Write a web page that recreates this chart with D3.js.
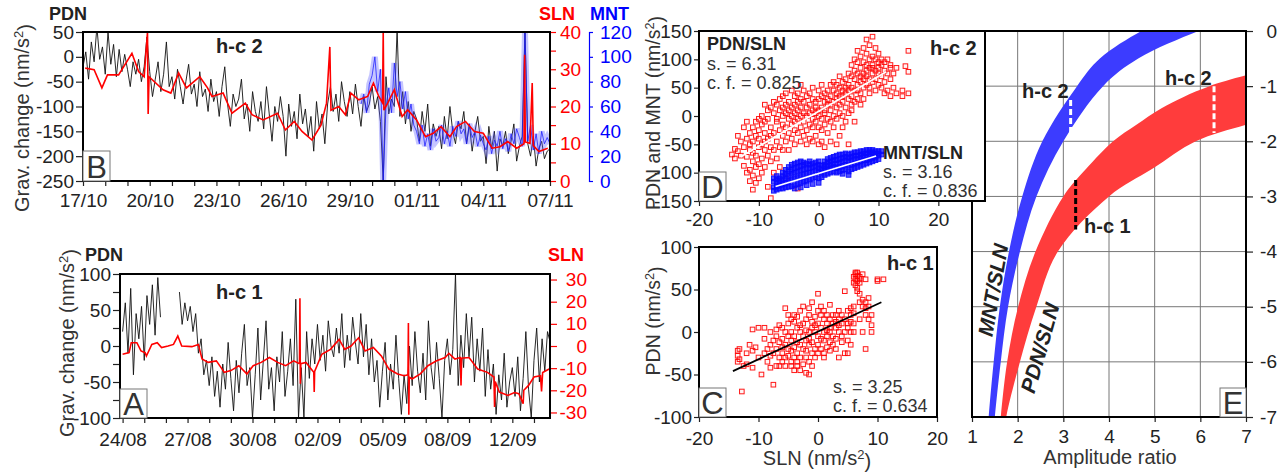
<!DOCTYPE html>
<html>
<head>
<meta charset="utf-8">
<script src="https://cdn.jsdelivr.net/npm/d3@7"></script>
<style>
  body { margin: 0; background: #fff; }
  svg { display: block; font-family: "Liberation Sans", Arial, sans-serif; }
</style>
</head>
<body>
<svg id="fig" width="1282" height="472"></svg>
<script>
// ---------------- data ----------------
// panel B (h-c 2): PDN sampled every 1/8 day from 17/10
const bStep = 0.125;
const bPdn = [
  -20, 10, -45, 30, -10, 60, -5, 20,
  -35, 50, -15, 25, -40, 15, -30, 5,
  -25, -60, -10, -35, -5, -50, -20, 40,
  -30, -80, -45, -10, -70, -35, 30, -60,
  -40, -85, -25, -60, -95, -50, -15, -75,
  -55, -100, -30, -80, -65, -110, -45, -90,
  -70, -120, -60, -20, -95, -140, -75, -100,
  -85, -45, -125, -95, -150, -70, -110, -130,
  -90, -145, -60, -115, -170, -100, -130, -80,
  -120, -200, -95, -140, -110, -165, -75, -135,
  -105, -160, -120, -190, -90, -145, -115, -175,
  -95, -60, -110, -75, -130, -50, -90, -120,
  -70, -115, -55, -100, -140, -80, -110, -95,
  -60, -105, -80, -130, -250, -40, -115, -85,
  -100, 55, -120, -70, -135, -90, -150, -110,
  -125, -170, -110, -150, -95, -180, -135, -160,
  -140, -185, -120, -165, -100, -150, -175, -130,
  -145, -110, -175, -135, -190, -150, -120, -170,
  -160, -215, -140, -185, -150, -230, -165, -180,
  -150, -195, -170, -135, -210, -180, -160, 55,
  -175, -200, -160, -220, -185, -170, -205, -190,
  -185
];
// MNT starts at day 12.5, same step
const bMntStart = 12.5;
const bMnt = [
  62, 70, 55, 78,
  85, 100, 72, 90, 0, 60, 75, 55,
  95, 68, 80, 58, 72, 50, 62, 45,
  40, 30, 45, 28, 38, 25, 42, 32,
  35, 45, 30, 40, 28, 44, 36, 48,
  38, 42, 30, 46, 35, 40, 28, 37,
  30, 25, 36, 22, 33, 28, 40, 26,
  34, 24, 38, 30, 42, 35, 28, 120,
  32, 45, 25, 38, 22, 40, 30, 35,
  30
];
// SLN (day, nm/s2)
const bSln = [[0.1,30.3],[0.5,29.9],[0.85,25],[1.1,28.5],[1.6,28.5],[2.2,34.3],[2.5,29.4],[2.75,28],[2.9,40],[2.93,18],[2.97,28],[3.6,24.5],[3.95,23.6],[4.3,29],[4.65,25],[5.25,28],[5.6,25],[5.8,22.7],[6.3,23.6],[6.7,18.2],[7.3,20.9],[7.6,17.8],[8.1,16.4],[8.75,18.2],[9.1,13.7],[9.5,16],[9.85,13.3],[10.3,11],[10.7,15],[10.95,20.9],[11.1,36],[11.15,19],[11.5,20],[11.8,17.8],[12.05,23.6],[12.4,21.8],[12.8,22.7],[13.06,26.3],[13.3,22.7],[13.47,21],[13.5,40],[13.53,19],[13.7,20.9],[14.0,24.5],[14.35,17.3],[14.6,19.1],[15.0,16.4],[15.4,11.9],[15.75,12.8],[16.1,14.6],[16.5,11.9],[16.8,14.6],[17.2,16],[17.6,13.3],[18.0,12.8],[18.4,8.8],[18.75,9.2],[19.1,10.6],[19.5,8.8],[19.83,10],[19.86,33.9],[19.89,10.5],[20.1,10.1],[20.2,26.3],[20.25,9.5],[20.5,7.9],[20.9,8.8]];
const bDateLabels = ["17/10", "20/10", "23/10", "26/10", "29/10", "01/11", "04/11", "07/11"];

// panel A (h-c 1): PDN every 1/8 day from 24/08, null = gap
const aStep = 0.125;
const aPdn = [
  20, 60, -10, 80, -40, 45, 10, 55,
  -20, 70, 30, 85, 15, 95, 40, null,
  null, null, null, null, null, 75, 30, 60,
  35, 55, 20, 45, -10, 10, -40, -20,
  -55, -15, -70, -35, -85, -25, -60, 5,
  -45, -90, -20, -65, -10, 30, -55, -30,
  -100, -40, 25, -75, -20, 35, -60, -30,
  -90, -15, -50, 20, -70, -35, 10, -55,
  65, -100, -30, -100, 20, -45, 10, -25,
  30, -20, 15, -35, 35, 0, -15, 25,
  -10, 45, -30, 15, -20, 40, 5, -25,
  45, -15, 30, -40, 10, -50, -20, -85,
  -35, 5, -75, -25, -60, 15, -45, -95,
  -40, -80, 0, -55, 20, -35, -65, -10,
  -75, 35, -30, -60, 5, -45, -100, -20,
  10, -40, -5, 100, -55, 15, -30, 45,
  -15, 40, -50, 10, -35, 25, -70, -5,
  -60, -25, -95, -40, -75, -10, -85, -50,
  -30, -70, -15, -90, -45, 20, -60, -100,
  -20, 25, -50, 10, -35, 20, 5
];
const aSln = [[0,-3.7],[0.3,-3],[0.4,1.5],[0.66,1.5],[0.85,-2.2],[1.04,-3],[1.1,-4.5],[1.35,0.7],[1.6,1.5],[1.8,-0.7],[2.1,0],[2.35,0.7],[2.55,4.5],[2.73,0],[3.2,-0.3],[3.5,0.7],[3.67,-5.9],[3.95,-7.4],[4.33,-6.7],[4.7,-11.9],[5.0,-11.1],[5.37,-8.9],[5.74,-12.6],[6.03,-8.9],[6.4,-7.4],[6.78,-5.2],[7.16,-7.4],[7.53,-8.9],[7.9,-6.7],[8.17,-8],[8.19,21.5],[8.21,-17],[8.23,-8],[8.47,-7.4],[8.83,-11.9],[8.85,-20.8],[8.87,-11.5],[9.2,-3.7],[9.6,-1.5],[10.0,3],[10.26,-1.5],[10.55,0],[10.9,3.7],[11.2,-2.2],[11.58,-0.7],[11.95,-4.5],[12.3,-10.4],[12.7,-12.6],[13.0,-13.4],[13.18,-13],[13.2,10.4],[13.22,-31],[13.24,-14],[13.37,-14.9],[13.75,-12.6],[14.1,-8.9],[14.5,-6.7],[14.9,-5.2],[15.07,-3.3],[15.35,-5.9],[15.6,-5.2],[15.63,-17.8],[15.66,-5.5],[16.0,-5.2],[16.4,-10.4],[16.85,-11.9],[17.15,-14],[17.18,-27.5],[17.21,-16],[17.4,-20.8],[17.8,-22.3],[18.1,-21],[18.3,-21.5],[18.5,-26],[18.53,-20],[18.75,-17.8],[19.0,-14],[19.3,-13.4],[19.35,-20.5],[19.4,-12],[19.7,-10.4]];
const aDateLabels = ["24/08", "27/08", "30/08", "02/09", "05/09", "08/09", "12/09"];

// panel D scatter: [SLN, [PDN values...]]
const dRed = [
  [-14.5,[-68]],[-14,[-58,-75]],[-13.5,[-35,-62]],[-13,[-70,-45]],[-12.5,[-20,-55,-88]],
  [-12,[-40,-72,-100,-10]],[-11.5,[-30,-60,-95,-115,-50]],[-11,[-20,-45,-80,-130,-105,-65]],
  [-10.5,[-10,-35,-70,-90,-118]],[-10,[-25,-55,-85,-5,-110,-40]],[-9.5,[-15,-50,-75,-100,0]],
  [-9,[-30,-60,-10,-90,20,-45]],[-8.5,[-5,-40,-70,-125,10]],[-8,[-20,-55,-145,15,-35,-80]],
  [-7.5,[5,-30,-60,-100,25]],[-7,[-10,-45,20,-75,-5]],[-6.5,[10,-25,-55,30,-90]],
  [-6,[0,-35,15,-15,35,-60]],[-5.5,[-20,20,-45,5,-110,40]],[-5,[-5,25,-30,10,-60]],
  [-4.5,[15,-15,45,-40,0]],[-4,[-25,5,35,-50,20,-10]],[-3.5,[10,-30,40,-5,25,-128]],
  [-3,[-20,15,-45,30,0,55]],[-2.5,[-10,25,-35,5,45]],[-2,[0,-25,35,15,-50]],
  [-1.5,[20,-15,40,-40,5]],[-1,[10,-20,30,-5,50,-45]],[-0.5,[25,-10,5,-35,15]],
  [0,[0,30,-20,10,-50,45]],[0.5,[15,-25,35,-5,55,-45]],[1,[5,25,-15,40,-55,10]],
  [1.5,[20,-5,45,-30,30]],[2,[10,35,-10,55,-45,20]],[2.5,[25,0,45,-20,60]],
  [3,[15,40,-5,30,-50,55]],[3.5,[35,5,50,20,-35,70]],[4,[25,45,0,60,-20,35]],
  [4.5,[40,15,65,-10,50]],[5,[30,55,5,75,45,-50]],[5.5,[50,20,70,35,90,10]],
  [6,[45,65,25,80,100,-10]],[6.5,[55,75,30,95,115,45]],[7,[60,85,40,105,20,70]],
  [7.5,[75,50,95,120,65,30]],[8,[70,90,55,110,80,135]],[8.5,[85,65,100,125,50,40]],
  [9,[90,75,140,60,105,85]],[9.5,[80,100,65,120,45]],[10,[95,75,110,55,85]],
  [10.5,[70,90,50,100]],[11,[80,60,95,40]],[11.5,[100,75,45]],[12,[90,65,85,35]],
  [12.5,[75,50]],[13,[40,85]],[14,[35,45]],[14.5,[88]],[15,[115,78,40]]
];
const dBlue = [
  [-7.5,[-126,-116,-132,-110]],[-7,[-124,-112,-130,-118,-106]],[-6.5,[-122,-110,-128,-115]],
  [-6,[-120,-106,-128,-112,-100]],[-5.5,[-118,-102,-126,-110,-95]],[-5,[-115,-98,-125,-106,-90]],
  [-4.5,[-112,-95,-124,-102,-86]],[-4,[-110,-92,-122,-100,-84,-128]],[-3.5,[-108,-90,-120,-98,-82]],
  [-3,[-106,-88,-118,-96,-80,-126]],[-2.5,[-104,-86,-116,-94,-82]],[-2,[-102,-84,-114,-92,-122]],
  [-1.5,[-100,-86,-112,-92,-80]],[-1,[-98,-84,-110,-90,-120]],[-0.5,[-96,-82,-108,-88]],
  [0,[-98,-86,-110,-92,-80,-118]],[0.5,[-100,-88,-108,-94]],[1,[-96,-86,-104,-90,-80]],
  [1.5,[-94,-82,-102,-88,-76]],[2,[-92,-80,-100,-86,-74]],[2.5,[-90,-78,-98,-84,-72]],
  [3,[-92,-78,-100,-84,-70]],[3.5,[-90,-76,-98,-82,-68]],[4,[-88,-74,-96,-80,-68,-102]],
  [4.5,[-86,-72,-94,-78,-66]],[5,[-88,-74,-98,-80,-68,-104]],[5.5,[-86,-72,-94,-78,-66]],
  [6,[-84,-70,-92,-76,-64]],[6.5,[-82,-70,-90,-76,-64]],[7,[-80,-68,-88,-74,-62]],
  [7.5,[-78,-66,-86,-72,-62]],[8,[-78,-66,-84,-72,-60]],[8.5,[-76,-64,-82,-70,-60]],
  [9,[-74,-64,-80,-68,-60]],[9.5,[-72,-62,-78,-66]],[10,[-70,-62,-76,-66]],[10.5,[-68,-62]]
];
const dFitRed = [[-13, -72], [11.3, 78]];
const dFitBlue = [[-7.2, -124.6], [9.6, -70.5]];

// panel C scatter (h-c 1)
const cRed = [
  [-13.5,[-22,-28,-35]],[-13.2,[-20,-32]],[-12.8,[-70]],[-12.5,[-40]],[-12,[-38,-25]],[-11.5,[-15]],
  [-11,[3,-42,-22]],[-10.5,[-18]],[-10,[5,-30]],[-9.5,[-50]],[-9,[5,-25,-8]],[-8.5,[-35,-20]],
  [-8,[-15,0,-42,-28]],[-7.5,[-62,-10,-25]],[-7,[-20,-5,-40,3]],[-6.5,[-30,-12,8,-40]],
  [-6,[-25,-8,-35,5,-18]],[-5.5,[28,-15,-30,0,-40]],[-5,[-20,10,-5,-28,20]],
  [-4.5,[-10,-35,15,-22,0,-40]],[-4,[-30,-5,12,-18,-45,20]],[-3.5,[-25,5,-40,-12,18,-35]],
  [-3,[-15,8,-30,-45,25,0]],[-2.5,[-20,10,-38,-5,30]],[-2,[-10,-30,15,-48,2,-22]],
  [-1.5,[-50,-15,20,-35,0,28,-8]],[-1,[-25,5,-40,12,-12,35]],[-0.5,[0,-20,18,-30,8]],
  [0,[10,-15,25,-5,45,-25]],[0.5,[5,-20,20,-8,30]],[1,[15,-10,0,-25,25,-30]],
  [1.5,[10,-5,20,-18,2]],[2,[0,15,-12,32,-22,5]],[2.5,[10,-5,20,-15]],[3,[5,20,-8,12,-20]],
  [3.5,[15,0,-30,8,25]],[4,[10,-5,20,-12]],[4.5,[0,15,48,-25]],[5,[10,-10,5,25,-25]],
  [5.5,[20,0,28,12,-15]],[6,[30,10,65,58,0,22]],[6.3,[68,62,55,70]],[6.6,[66,60,52,70,48]],
  [7,[65,62,58,35,15,45]],[7.5,[30,38,0,68]],[8,[35,20,-20,28,62]],[8.5,[40,15,30]],
  [9,[20,0,8]],[10,[60,62]],[11,[62]]
];
const cFit = [[-14.3, -46], [10.65, 35]];

// panel E bands: depth levels and amplitude-ratio bounds
const eBlueDepth = [-7.3, -7, -6, -5, -4, -3, -2, -1, -0.5, 0, 0.3];
const eBlueLo = [1.34, 1.365, 1.475, 1.61, 1.81, 2.10, 2.54, 3.3, 3.8, 4.71, 5.5];
const eBlueHi = [1.47, 1.50, 1.63, 1.79, 2.05, 2.41, 3.0, 3.87, 4.64, 5.96, 7.0];
const eRedDepth = [-7.3, -7, -6, -5, -4, -3, -2.5, -2, -1.7, -1.4, -1, -0.5];
const eRedLo = [1.6, 1.63, 1.77, 2.01, 2.39, 3.0, 3.5, 4.09, 4.6, 5.15, 6.2, 8.5];
const eRedHi = [1.71, 1.75, 2.05, 2.41, 2.88, 4.0, 4.95, 5.9, 7.0, 8.3, 10.5, 14];
// dashed markers: ratio, depth from, depth to, colour
const eMarks = [[3.16, -1.25, -1.92, "#fff"], [6.3, -1.0, -1.85, "#fff"], [3.27, -2.7, -3.6, "#000"]];

// ---------------- helpers ----------------
const svg = d3.select("#fig");
const INK = "#222";
const FS = 19;

function clipRect(id, x0, y0, x1, y1) {
  svg.append("clipPath").attr("id", id).append("rect")
    .attr("x", x0).attr("y", y0).attr("width", x1 - x0).attr("height", y1 - y0);
  return `url(#${id})`;
}

function styleAxis(g, color, keepDomain) {
  g.attr("font-family", null).attr("font-size", FS);
  if (!keepDomain) g.select(".domain").remove();
  else g.select(".domain").attr("stroke", color).attr("stroke-width", 1.2);
  g.selectAll(".tick line").attr("stroke", color).attr("stroke-width", 1.2);
  g.selectAll(".tick text").attr("fill", color);
  return g;
}

function frame(x0, y0, x1, y1) {
  svg.append("rect").attr("x", x0).attr("y", y0).attr("width", x1 - x0).attr("height", y1 - y0)
    .attr("fill", "none").attr("stroke", "#000").attr("stroke-width", 2);
}

function letterBox(x, y, w, h, letter) {
  svg.append("rect").attr("x", x).attr("y", y).attr("width", w).attr("height", h)
    .attr("fill", "#fff").attr("stroke", "#777").attr("stroke-width", 1);
  svg.append("text").attr("x", x + w / 2).attr("y", y + h - 3).attr("text-anchor", "middle")
    .attr("font-size", 31).attr("fill", "#333").text(letter);
}

function text(x, y, str, opts = {}) {
  return svg.append("text").attr("x", x).attr("y", y)
    .attr("font-size", opts.size || 18).attr("font-weight", opts.bold ? "bold" : null)
    .attr("fill", opts.color || INK).attr("text-anchor", opts.anchor || "start").text(str);
}

// rotated unit title like "Grav. change (nm/s²)"
function unitTitle(cx, cy, prefix, size, angle = -90) {
  const t = svg.append("text").attr("transform", `translate(${cx},${cy}) rotate(${angle})`)
    .attr("text-anchor", "middle").attr("dy", "0.35em").attr("font-size", size).attr("fill", "#333");
  t.append("tspan").text(prefix + "(nm/s");
  t.append("tspan").attr("dy", "-0.45em").attr("font-size", size * 0.65).text("2");
  t.append("tspan").attr("dy", "0.45em").text(")");
  return t;
}

function squares(g, pts, x, y, color, fillOp) {
  const s = 4.6;
  g.selectAll(null).data(pts).join("rect")
    .attr("x", d => x(d[0]) - s / 2).attr("y", d => y(d[1]) - s / 2)
    .attr("width", s).attr("height", s)
    .attr("fill", color).attr("fill-opacity", fillOp)
    .attr("stroke", color).attr("stroke-width", 1).attr("stroke-opacity", 0.9);
}

const flat = groups => groups.flatMap(([x, ys]) => ys.map(v => [x, v]));
const fmt = d => String(d);

// ---------------- panel B ----------------
{
  const L = 83, R = 550, T = 32, B = 181;
  const x = d3.scaleLinear([0, 21], [L, R]);
  const y = d3.scaleLinear([-250, 50], [B, T]);
  const ys = d3.scaleLinear([0, 40], [B, T]);
  const ym = d3.scaleLinear([0, 120], [B, T]);
  const cp = clipRect("cB", L, T, R, B);
  const g = svg.append("g").attr("clip-path", cp);

  g.append("path").datum(bPdn)
    .attr("d", d3.line().x((d, i) => x(i * bStep)).y(d => y(d)))
    .attr("fill", "none").attr("stroke", "#111").attr("stroke-width", 0.9);

  const mLine = d3.line().x((d, i) => x(bMntStart + i * bStep)).y(d => ym(d));
  g.append("path").datum(bMnt).attr("d", mLine)
    .attr("fill", "none").attr("stroke", "#5a5aff").attr("stroke-opacity", 0.35).attr("stroke-width", 6);
  g.append("path").datum(bMnt).attr("d", mLine)
    .attr("fill", "none").attr("stroke", "#1a1aff").attr("stroke-opacity", 0.75).attr("stroke-width", 1);

  g.append("path").datum(bSln)
    .attr("d", d3.line().x(d => x(d[0])).y(d => ys(d[1])))
    .attr("fill", "none").attr("stroke", "#ff0000").attr("stroke-width", 1.6);

  styleAxis(svg.append("g").attr("transform", `translate(${L},0)`)
    .call(d3.axisLeft(y).tickValues(d3.range(-250, 51, 50)).tickFormat(fmt).tickSize(7).tickPadding(2)), INK);
  styleAxis(svg.append("g").attr("transform", `translate(0,${B})`)
    .call(d3.axisBottom(x).tickValues(d3.range(0, 22, 1)).tickFormat(d => d % 3 === 0 ? bDateLabels[d / 3] : "")
      .tickSize(5).tickPadding(8)), INK);
  styleAxis(svg.append("g").attr("transform", `translate(${R},0)`)
    .call(d3.axisRight(ys).tickValues(d3.range(0, 41, 5)).tickFormat(d => d % 10 === 0 ? fmt(d) : "")
      .tickSize(6).tickPadding(4)), "#ff0000");
  styleAxis(svg.append("g").attr("transform", `translate(589,0)`)
    .call(d3.axisRight(ym).tickValues(d3.range(0, 121, 20)).tickFormat(fmt).tickSize(4).tickSizeOuter(4).tickPadding(7)),
    "#0000ff", true);

  frame(L, T, R, B);
  letterBox(L, 151, 27, 30, "B");
  text(49, 20, "PDN", { bold: true });
  text(539, 20, "SLN", { bold: true, color: "#ff0000" });
  text(590, 20, "MNT", { bold: true, color: "#0000ff" });
  text(216, 53, "h-c 2", { bold: true, size: 20 });
  unitTitle(22, 118, "Grav. change ", 20);
}

// ---------------- panel A ----------------
{
  const L = 120, R = 550, T = 274, B = 418;
  const x = d3.scaleLinear([-0.12, 19.74], [L, R]);
  const y = d3.scaleLinear([-100, 100], [B, T]);
  const ys = d3.scaleLinear([-32.5, 32.5], [B, T]);
  const cp = clipRect("cA", L, T, R, B);
  const g = svg.append("g").attr("clip-path", cp);

  g.append("path").datum(aPdn)
    .attr("d", d3.line().defined(d => d !== null).x((d, i) => x(i * aStep)).y(d => y(d)))
    .attr("fill", "none").attr("stroke", "#111").attr("stroke-width", 0.9);
  g.append("path").datum(aSln)
    .attr("d", d3.line().x(d => x(d[0])).y(d => ys(d[1])))
    .attr("fill", "none").attr("stroke", "#ff0000").attr("stroke-width", 1.6);

  styleAxis(svg.append("g").attr("transform", `translate(${L},0)`)
    .call(d3.axisLeft(y).tickValues(d3.range(-100, 101, 25)).tickFormat(d => d % 50 === 0 ? fmt(d) : "")
      .tickSize(7).tickPadding(2)), INK);
  styleAxis(svg.append("g").attr("transform", `translate(0,${B})`)
    .call(d3.axisBottom(x).tickValues(d3.range(0, 20, 1)).tickFormat(d => d % 3 === 0 ? aDateLabels[d / 3] : "")
      .tickSize(5).tickPadding(10)), INK);
  const ra = styleAxis(svg.append("g").attr("transform", `translate(${R + 1},0)`)
    .call(d3.axisRight(ys).tickValues(d3.range(-30, 31, 10)).tickFormat(fmt).tickSize(6)), "#ff0000");
  ra.selectAll(".tick text").attr("text-anchor", "end").attr("x", 36);

  frame(L, T, R, B);
  letterBox(L, 389, 27, 29, "A");
  text(85, 261, "PDN", { bold: true });
  text(548, 261, "SLN", { bold: true, color: "#ff0000" });
  text(216, 299, "h-c 1", { bold: true, size: 20 });
  unitTitle(67, 343, "Grav. change ", 20);
}

// ---------------- panel E (drawn before D, which overlaps it) ----------------
{
  const L = 972, R = 1246, T = 31, B = 417;
  const x = d3.scaleLinear([1, 7], [L, R]);
  const y = d3.scaleLinear([-7, 0], [B, T]);
  const cp = clipRect("cE", L, T, R, B);

  svg.append("g").selectAll(null).data(d3.range(2, 7)).join("line")
    .attr("x1", d => x(d)).attr("x2", d => x(d)).attr("y1", T).attr("y2", B)
    .attr("stroke", "#777").attr("stroke-width", 1);
  svg.append("g").selectAll(null).data(d3.range(-6, 0)).join("line")
    .attr("y1", d => y(d)).attr("y2", d => y(d)).attr("x1", L).attr("x2", R)
    .attr("stroke", "#777").attr("stroke-width", 1);

  const band = (depth, lo, hi) => d3.area().curve(d3.curveCatmullRom)
    .y((d, i) => y(depth[i])).x0((d, i) => x(lo[i])).x1((d, i) => x(hi[i]))(depth);
  const g = svg.append("g").attr("clip-path", cp);
  g.append("path").attr("d", band(eBlueDepth, eBlueLo, eBlueHi)).attr("fill", "#3c3cff");
  g.append("path").attr("d", band(eRedDepth, eRedLo, eRedHi)).attr("fill", "#ff3c3c");

  g.selectAll(null).data(eMarks).join("line")
    .attr("x1", d => x(d[0])).attr("x2", d => x(d[0]))
    .attr("y1", d => y(d[1])).attr("y2", d => y(d[2]))
    .attr("stroke", d => d[3]).attr("stroke-width", 3).attr("stroke-dasharray", "6,3");

  const ra = styleAxis(svg.append("g").attr("transform", `translate(${R},0)`)
    .call(d3.axisRight(y).tickValues(d3.range(-7, 1)).tickFormat(fmt).tickSize(7)), INK);
  ra.selectAll(".tick text").attr("text-anchor", "end").attr("x", 31);
  styleAxis(svg.append("g").attr("transform", `translate(0,${B})`)
    .call(d3.axisBottom(x).tickValues(d3.range(1, 8)).tickFormat(fmt).tickSize(5).tickPadding(8)), INK);

  frame(L, T, R, B);
  letterBox(1220, 388, 26, 29, "E");
  text(1022, 98, "h-c 2", { bold: true, size: 20 });
  text(1165, 85, "h-c 2", { bold: true, size: 20 });
  text(1084, 233, "h-c 1", { bold: true, size: 20 });
  svg.append("text").attr("transform", "translate(993,290) rotate(-80)").attr("text-anchor", "middle")
    .attr("dy", "0.35em").attr("font-size", 21).attr("font-weight", "bold").attr("font-style", "italic")
    .attr("fill", INK).text("MNT/SLN");
  svg.append("text").attr("transform", "translate(1040,348) rotate(-74)").attr("text-anchor", "middle")
    .attr("dy", "0.35em").attr("font-size", 21).attr("font-weight", "bold").attr("font-style", "italic")
    .attr("fill", INK).text("PDN/SLN");
  text(1110, 464, "Amplitude ratio", { size: 20, anchor: "middle", color: "#333" });
}

// ---------------- panel D ----------------
{
  const L = 699, R = 985, T = 31, B = 201;
  const x = d3.scaleLinear([-20, 27.8], [L, R]);
  const y = d3.scaleLinear([-150, 150], [B, T]);
  svg.append("rect").attr("x", L).attr("y", T).attr("width", R - L).attr("height", B - T).attr("fill", "#fff");
  const cp = clipRect("cD", L, T, R, B);
  const g = svg.append("g").attr("clip-path", cp);

  squares(g, flat(dRed), x, y, "#ff0000", 0.04);
  squares(g, flat(dBlue), x, y, "#0a0aff", 0.7);
  const fit = d3.line().x(d => x(d[0])).y(d => y(d[1]));
  g.append("path").attr("d", fit(dFitRed)).attr("stroke", "#fff").attr("stroke-width", 1.6);
  g.append("path").attr("d", fit(dFitBlue)).attr("stroke", "#fff").attr("stroke-width", 1.6);

  styleAxis(svg.append("g").attr("transform", `translate(${L},0)`)
    .call(d3.axisLeft(y).tickValues(d3.range(-150, 151, 50)).tickFormat(fmt).tickSize(5).tickPadding(2)), INK);
  styleAxis(svg.append("g").attr("transform", `translate(0,${B})`)
    .call(d3.axisBottom(x).tickValues(d3.range(-20, 21, 10)).tickFormat(fmt).tickSize(5).tickPadding(7)), INK);

  frame(L, T, R, B);
  letterBox(L, 172, 27, 29, "D");
  text(707, 50, "PDN/SLN", { bold: true });
  text(707, 69.5, "s. = 6.31", { color: "#333" });
  text(707, 88.5, "c. f. = 0.825", { color: "#333" });
  text(930, 55, "h-c 2", { bold: true, size: 20 });
  text(883, 158.5, "MNT/SLN", { bold: true });
  text(883, 177.5, "s. = 3.16", { color: "#333" });
  text(883, 196.5, "c. f. = 0.836", { color: "#333" });
  unitTitle(653, 113, "PDN and MNT ", 19.5);
}

// ---------------- panel C ----------------
{
  const L = 699, R = 937, T = 247, B = 417;
  const x = d3.scaleLinear([-20, 20], [L, R]);
  const y = d3.scaleLinear([-100, 100], [B, T]);
  const cp = clipRect("cC", L, T, R, B);
  const g = svg.append("g").attr("clip-path", cp);

  squares(g, flat(cRed), x, y, "#ff0000", 0.04);
  g.append("path").attr("d", d3.line().x(d => x(d[0])).y(d => y(d[1]))(cFit))
    .attr("stroke", "#000").attr("stroke-width", 1.8);

  styleAxis(svg.append("g").attr("transform", `translate(${L},0)`)
    .call(d3.axisLeft(y).tickValues(d3.range(-100, 101, 50)).tickFormat(fmt).tickSize(5).tickPadding(2)), INK);
  styleAxis(svg.append("g").attr("transform", `translate(0,${B})`)
    .call(d3.axisBottom(x).tickValues(d3.range(-20, 21, 10)).tickFormat(fmt).tickSize(5).tickPadding(10)), INK);

  frame(L, T, R, B);
  letterBox(L, 388, 27, 29, "C");
  text(887, 270, "h-c 1", { bold: true, size: 20 });
  text(833, 393, "s. = 3.25", { color: "#333" });
  text(833, 412, "c. f. = 0.634", { color: "#333" });
  unitTitle(653, 321, "PDN ", 19.5);
  const xt = svg.append("text").attr("x", 817).attr("y", 465).attr("text-anchor", "middle")
    .attr("font-size", 20).attr("fill", "#333");
  xt.append("tspan").text("SLN (nm/s");
  xt.append("tspan").attr("dy", "-0.45em").attr("font-size", 13).text("2");
  xt.append("tspan").attr("dy", "0.45em").text(")");
}
</script>
</body>
</html>
